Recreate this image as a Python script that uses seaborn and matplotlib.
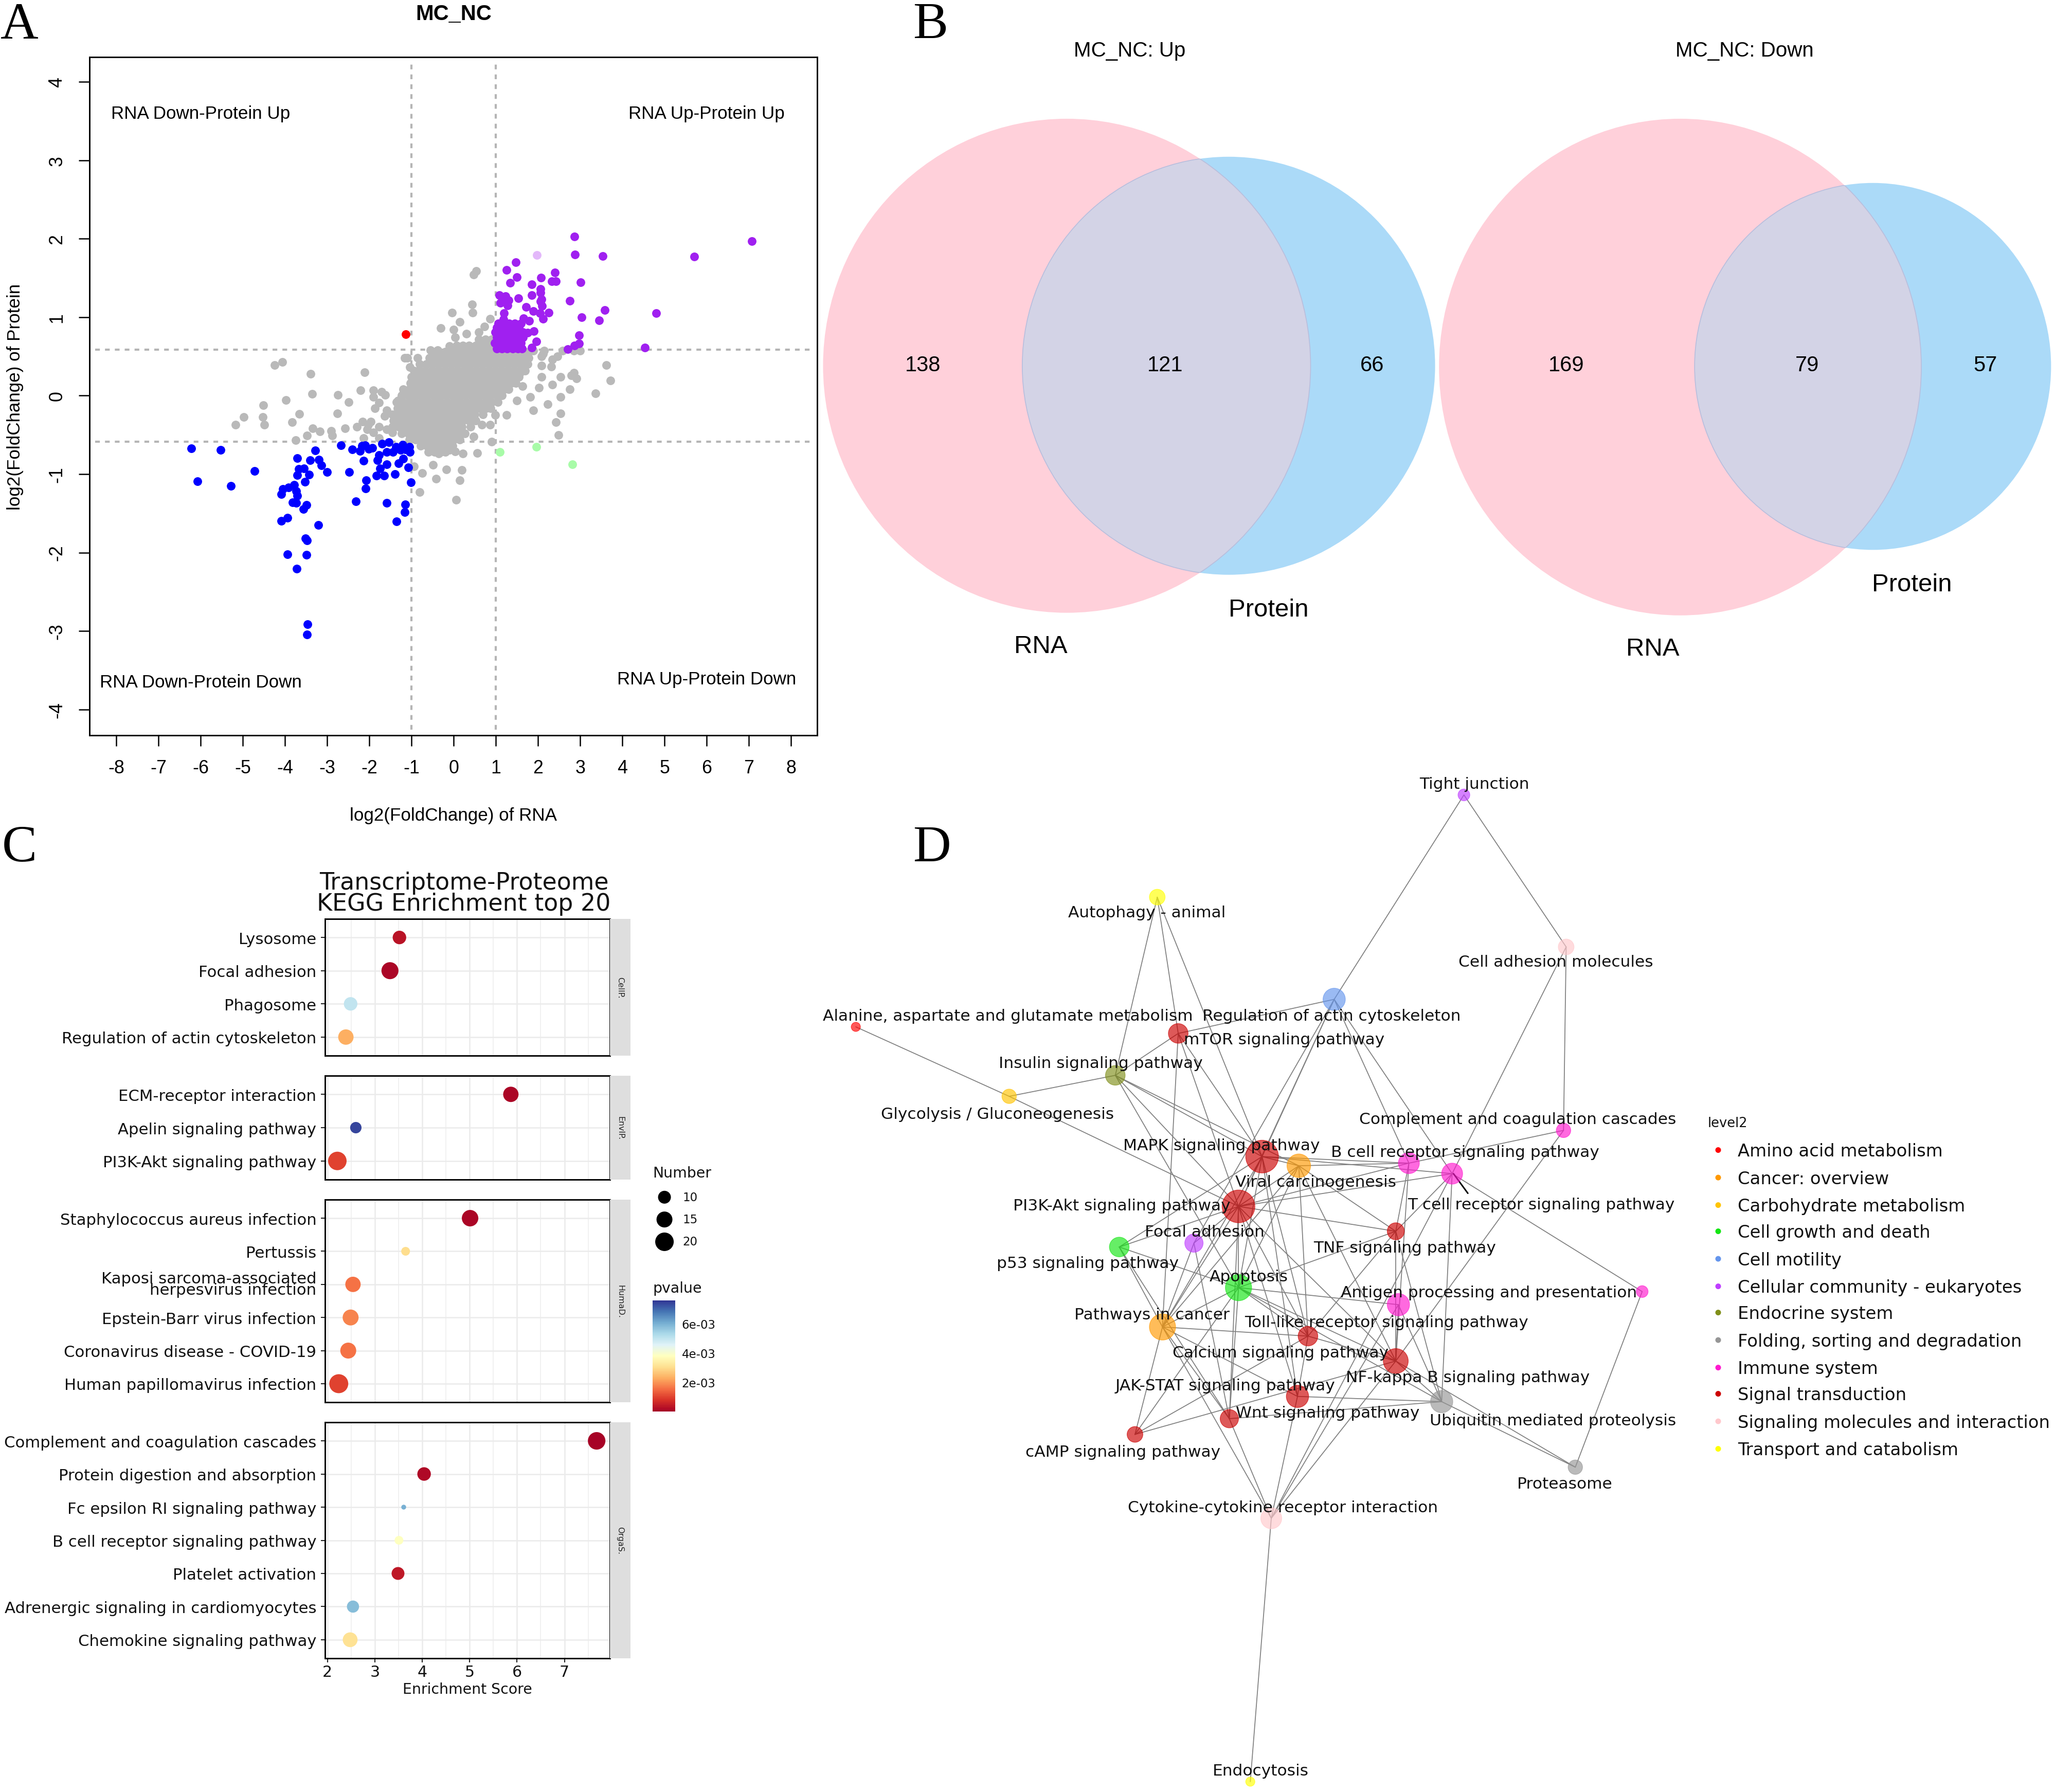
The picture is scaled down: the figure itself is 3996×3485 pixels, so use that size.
import numpy as np
import pandas as pd
import matplotlib
matplotlib.use("Agg")
import matplotlib.pyplot as plt
from matplotlib.patches import Ellipse
from matplotlib.cm import ScalarMappable
from matplotlib.colors import Normalize
import seaborn as sns

W, H = 3996, 3486
MAIN = W / 1568.0

# ---------- Panel A data ----------
BLOB_Y = [0.72, 0.64, 0.56, 0.48, 0.40, 0.32, 0.24, 0.16, 0.08, 0.0, -0.08, -0.16, -0.24, -0.32, -0.40, -0.48, -0.56, -0.64, -0.72]
BLOB_X = [
    [0.6, 0.75, 0.9, 1.0],
    [0.07, 0.22, 0.37, 0.52, 0.67, 0.82, 0.97],
    [-0.5, -0.35, -0.2, -0.05, 0.1, 0.25, 0.4, 0.55, 0.7, 0.85, 1.0, 1.15, 1.3, 1.45, 1.6, 1.7],
    [-0.58, -0.43, -0.28, -0.13, 0.02, 0.17, 0.32, 0.47, 0.62, 0.77, 0.92, 1.07, 1.22, 1.37, 1.52, 1.67, 1.78],
    [-0.8, -0.65, -0.5, -0.35, -0.2, -0.05, 0.1, 0.25, 0.4, 0.55, 0.7, 0.85, 1.0, 1.15, 1.3, 1.45, 1.6, 1.75],
    [-0.83, -0.68, -0.53, -0.38, -0.23, -0.08, 0.07, 0.22, 0.37, 0.52, 0.67, 0.82, 0.97, 1.12, 1.27, 1.42, 1.57, 1.7],
    [-1.0, -0.85, -0.7, -0.55, -0.4, -0.25, -0.1, 0.05, 0.2, 0.35, 0.5, 0.65, 0.8, 0.95, 1.1, 1.25, 1.4, 1.55],
    [-1.03, -0.88, -0.73, -0.58, -0.43, -0.28, -0.13, 0.02, 0.17, 0.32, 0.47, 0.62, 0.77, 0.92, 1.07, 1.22, 1.37, 1.48],
    [-1.2, -1.05, -0.9, -0.75, -0.6, -0.45, -0.3, -0.15, 0.0, 0.15, 0.3, 0.45, 0.6, 0.75, 0.9, 1.05, 1.2, 1.3],
    [-1.23, -1.08, -0.93, -0.78, -0.63, -0.48, -0.33, -0.18, -0.03, 0.12, 0.27, 0.42, 0.57, 0.72, 0.87, 1.02, 1.15],
    [-1.35, -1.2, -1.05, -0.9, -0.75, -0.6, -0.45, -0.3, -0.15, 0.0, 0.15, 0.3, 0.45, 0.6, 0.75, 0.9, 1.05],
    [-1.33, -1.18, -1.03, -0.88, -0.73, -0.58, -0.43, -0.28, -0.13, 0.02, 0.17, 0.32, 0.47, 0.62, 0.77, 0.88],
    [-1.45, -1.3, -1.15, -1.0, -0.85, -0.7, -0.55, -0.4, -0.25, -0.1, 0.05, 0.2, 0.35, 0.5, 0.7],
    [-1.43, -1.28, -1.13, -0.98, -0.83, -0.68, -0.53, -0.38, -0.23, -0.08, 0.07, 0.22, 0.37, 0.52],
    [-1.45, -1.3, -1.15, -1.0, -0.85, -0.7, -0.55, -0.4, -0.25, -0.1, 0.05, 0.2, 0.4],
    [-1.23, -1.08, -0.93, -0.78, -0.63, -0.48, -0.33, -0.18, -0.03, 0.12, 0.27],
    [-1.05, -0.9, -0.75, -0.6, -0.45, -0.3, -0.15, 0.0, 0.15],
    [-0.78, -0.63, -0.48, -0.33, -0.18, -0.03],
    [-0.6, -0.45, -0.3, -0.2],
]
GRAY_X = [-4.24, -4.06, -3.39, -3.36, -4.51, -3.98, -4.52, -4.49, -4.98, -5.17, -3.66, -3.83, -2.75, -2.49, -2.76, -2.21, -2.11, -3.34, -3.17, -3.47, -3.75, -2.90, -2.88, -2.57, -2.29,
          -1.90, -1.71, -1.62, -1.87, -1.77, -1.58, -2.16, -1.96, -2.05, -1.90, -2.13, -1.77, -1.58, -1.45, -1.39, -1.32, -1.90, -2.03, -1.77, -1.64,
          -1.16, -1.10, -1.04, -0.94, -0.85, -0.55, -0.385, -0.31, -0.04, 0.15, 0.0, 0.44, 0.475, 0.54, 0.45, 0.86, 0.73, 0.60, 0.31, -0.10, 0.03,
          2.08, 2.08, 2.08, 2.12, 2.34, 2.31, 2.46, 2.34, 2.53, 2.85, 2.75, 2.91, 2.79, 3.36, 3.62, 3.72, 2.53, 1.89, 2.23, 2.54, 2.43, 2.49, 1.82, 2.02, 1.63, 1.50, 1.25, 0.99, 0.86, 0.67, 0.90, 0.56, 0.475, 0.22, 0.03, 0.19, 0.15, 0.06, -0.17, -0.49, -0.42, -0.81, -0.74, -0.94, -0.36, -0.10, 2.14, 2.59, 2.85, 3.0, 1.89, 1.57, 1.76]
GRAY_Y = [0.39, 0.43, 0.276, 0.02, -0.124, -0.055, -0.276, -0.37, -0.276, -0.37, -0.234, -0.338, 0.007, -0.083, -0.228, 0.07, 0.30, -0.414, -0.455, -0.51, -0.57, -0.448, -0.51, -0.42, -0.40,
          0.07, 0.05, 0.01, -0.16, -0.09, -0.19, -0.33, -0.33, -0.43, -0.47, -0.54, -0.40, -0.43, -0.47, -0.26, -0.06, -0.02, -0.37, -0.54, -0.26,
          0.48, 0.48, 0.36, 0.32, 0.48, 0.58, 0.58, 0.86, 1.06, 0.94, 0.84, 1.16, 1.54, 1.59, 1.06, 0.98, 0.88, 0.81, 0.79, 0.63, 0.74,
          0.50, 0.38, 0.24, 0.53, 0.46, 0.37, 0.50, 0.14, 0.24, 0.29, 0.08, 0.22, 0.26, 0.03, 0.39, 0.19, -0.02, -0.19, -0.11, -0.23, -0.34, -0.50, -0.02, 0.10, 0.12, -0.06, -0.25, -0.25, -0.37, -0.37, -0.59, -0.73, -0.52, -0.74, -0.71, -0.95, -1.08, -1.33, -0.94, -0.88, -1.06, -1.23, -0.99, -0.90, -0.74, -0.69, 0.57, 0.57, 0.57, 0.57, 0.57, 0.29, 0.50]
PURPLE_X = [2.86, 2.88, 3.54, 5.71, 7.07, 1.48, 1.26, 1.50, 1.34, 1.85, 2.07, 2.40, 2.33, 2.43, 3.01, 1.85, 1.54, 2.06, 2.06, 2.08, 2.06, 2.10, 2.76, 3.59, 4.80, 3.03, 3.45, 2.98, 4.54, 2.71, 2.86, 2.98, 2.26, 2.12, 2.05, 1.89, 1.72, 1.79, 1.66, 1.60, 1.90, 1.76, 1.96, 1.85, 1.08, 1.23, 1.30, 1.11, 1.28, 1.17, 1.20,
            1.02, 1.14, 1.27, 1.40, 1.52, 1.62, 0.98, 1.10, 1.23, 1.36, 1.48, 1.60, 1.02, 1.14, 1.27, 1.40, 1.52, 1.64, 0.99, 1.11, 1.24, 1.36, 1.50, 1.64, 1.02, 1.14, 1.27, 1.40, 1.55, 1.06, 1.20, 1.32, 1.45, 1.18]
PURPLE_Y = [2.03, 1.80, 1.78, 1.77, 1.97, 1.70, 1.60, 1.51, 1.44, 1.42, 1.50, 1.57, 1.46, 1.46, 1.445, 1.28, 1.24, 1.36, 1.31, 1.23, 1.20, 1.14, 1.21, 1.09, 1.05, 1.00, 0.96, 0.77, 0.615, 0.59, 0.64, 0.665, 1.06, 0.98, 1.05, 1.08, 1.13, 0.95, 0.985, 0.92, 0.82, 0.80, 0.69, 0.61, 1.28, 1.27, 1.215, 1.18, 1.15, 1.23, 1.05,
            0.60, 0.60, 0.60, 0.60, 0.60, 0.60, 0.67, 0.67, 0.67, 0.67, 0.67, 0.67, 0.74, 0.74, 0.74, 0.74, 0.74, 0.74, 0.81, 0.81, 0.81, 0.81, 0.81, 0.81, 0.87, 0.87, 0.87, 0.87, 0.87, 0.92, 0.92, 0.92, 0.92, 0.97]
BLUE_X = [-6.22, -5.53, -4.72, -6.07, -5.28, -3.28, -3.71, -3.40, -3.20, -3.14, -3.00, -3.67, -3.55, -3.43, -3.71, -3.52, -3.78, -3.91, -4.05, -4.09, -3.73, -3.71, -3.82, -3.73, -3.49, -3.56, -3.94, -4.08, -3.21, -3.51, -3.48, -3.94, -3.49, -3.72, -3.46, -3.48,
          -2.67, -2.48, -2.40, -2.22, -2.17, -2.10, -2.01, -1.93, -2.13, -2.07, -2.09, -2.32, -1.58, -1.15, -1.16, -1.36, -1.01, -1.08, -1.70, -1.54, -1.59, -1.77, -1.81, -1.58, -1.74, -1.83, -1.65, -1.39, -1.31, -1.20, -1.44, -1.37, -1.21, -1.05, -1.04, -1.26, -1.15]
BLUE_Y = [-0.674, -0.691, -0.958, -1.09, -1.152, -0.698, -0.796, -0.825, -0.818, -0.892, -0.977, -0.932, -0.930, -1.006, -1.015, -1.098, -1.139, -1.17, -1.19, -1.255, -1.22, -1.275, -1.362, -1.368, -1.395, -1.445, -1.56, -1.60, -1.648, -1.82, -1.845, -2.02, -2.03, -2.205, -2.913, -3.047,
          -0.632, -0.973, -0.689, -0.706, -0.641, -0.635, -0.68, -0.667, -0.827, -1.078, -1.183, -1.351, -1.366, -1.386, -1.486, -1.602, -1.108, -0.914, -0.617, -0.595, -0.717, -0.761, -0.825, -0.879, -0.93, -1.017, -1.017, -1.0, -0.86, -0.805, -0.717, -0.652, -0.626, -0.652, -0.72, -0.695, -0.685]
RED_PT = ([-1.14], [0.78])
LILAC_PT = ([1.98], [1.79])
GREEN_X = [1.10, 1.96, 2.81]
GREEN_Y = [-0.72, -0.65, -0.875]
A_XTICKS = list(range(-8, 9))
A_YTICKS = list(range(-4, 5))

# ---------- Panel B data ----------
VENN_TITLES = ["MC_NC: Up", "MC_NC: Down"]
VENN_COUNTS = [(138, 121, 66), (169, 79, 57)]

# ---------- Panel C data ----------
TERMS = ["Lysosome", "Focal adhesion", "Phagosome", "Regulation of actin cytoskeleton",
         "ECM-receptor interaction", "Apelin signaling pathway", "PI3K-Akt signaling pathway",
         "Staphylococcus aureus infection", "Pertussis", "Kaposi sarcoma-associated\nherpesvirus infection",
         "Epstein-Barr virus infection", "Coronavirus disease - COVID-19", "Human papillomavirus infection",
         "Complement and coagulation cascades", "Protein digestion and absorption", "Fc epsilon RI signaling pathway",
         "B cell receptor signaling pathway", "Platelet activation", "Adrenergic signaling in cardiomyocytes", "Chemokine signaling pathway"]
GROUPS = ["CellP."] * 4 + ["EnvIP."] * 3 + ["HumaD."] * 6 + ["OrgaS."] * 7
SCORES = [3.52, 3.32, 2.49, 2.39, 5.87, 2.60, 2.21, 5.01, 3.65, 2.54, 2.49, 2.44, 2.24, 7.68, 4.04, 3.61, 3.51, 3.49, 2.54, 2.48]
NUMBERS = [11, 17, 11, 14, 14, 8, 20, 16, 5, 14, 15, 15, 21, 18, 11, 2, 5, 10, 9, 13]
PVALUES = [3e-4, 1e-4, 5.0e-3, 2.3e-3, 1e-4, 7.4e-3, 1e-3, 1e-4, 3.0e-3, 1.6e-3, 1.8e-3, 1.6e-3, 1e-3, 5e-5, 1.5e-4, 6e-3, 3.8e-3, 4e-4, 5.8e-3, 3.1e-3]

# ---------- Panel D data ----------
NODE_NAMES = ["Tight junction", "Cell adhesion molecules", "Autophagy - animal", "Alanine, aspartate and glutamate metabolism",
              "Regulation of actin cytoskeleton", "mTOR signaling pathway", "Insulin signaling pathway", "Glycolysis / Gluconeogenesis",
              "Complement and coagulation cascades", "MAPK signaling pathway", "Viral carcinogenesis", "B cell receptor signaling pathway",
              "T cell receptor signaling pathway", "PI3K-Akt signaling pathway", "TNF signaling pathway", "Focal adhesion",
              "p53 signaling pathway", "Apoptosis", "Toll-like node", "Antigen processing and presentation", "Pathways in cancer",
              "Toll-like receptor signaling pathway", "NF-kappa B signaling pathway", "JAK-STAT signaling pathway",
              "Ubiquitin mediated proteolysis", "Wnt signaling pathway", "cAMP signaling pathway", "Proteasome",
              "Cytokine-cytokine receptor interaction", "Endocytosis"]
NODE_X = [1117, 1195, 883, 653, 1018, 899, 851, 770, 1193, 963, 991, 1075, 1108, 945, 1065, 911, 854, 945, 1067, 1253, 887, 998, 1065, 990, 1100, 938, 866, 1202, 970, 954]
NODE_Y = [607, 723, 685, 784, 763, 789, 821, 837, 863, 883, 890, 888, 896, 921, 940, 949, 952, 983, 996, 986, 1013, 1020, 1039, 1066, 1070, 1083, 1095, 1120, 1159, 1360]
NODE_R = [4.5, 6, 6, 3.5, 8.5, 7.5, 7.5, 5.5, 5.5, 12.5, 9, 8, 8, 12.5, 6.5, 7, 7.5, 10, 8.5, 4.5, 10, 7.5, 9.5, 8.5, 8.5, 7, 6, 5.5, 8, 3.5]
LEVEL2 = ["Amino acid metabolism", "Cancer: overview", "Carbohydrate metabolism", "Cell growth and death", "Cell motility",
          "Cellular community - eukaryotes", "Endocrine system", "Folding, sorting and degradation", "Immune system",
          "Signal transduction", "Signaling molecules and interaction", "Transport and catabolism"]
LEVEL2_COLORS = ["#FF0000", "#FF9900", "#FFC400", "#14E614", "#6495ED", "#BF3EFF", "#808F1A", "#969696", "#FF19CF", "#CC0000", "#FFC8CC", "#FFFF00"]
NODE_LEVEL = [5, 10, 11, 0, 4, 9, 6, 2, 8, 9, 1, 8, 8, 9, 9, 5, 3, 3, 8, 8, 1, 9, 9, 9, 7, 9, 9, 7, 10, 11]
LABEL_X = [1125, 1187, 875, 769, 1016, 980, 840, 761, 1158, 932, 1004, 1118, 1176, 856, 1072, 919, 830, 953, None, 1136, 879, 1058, 1120, 935, 1185, 1013, 857, 1194, 979, 962]
LABEL_Y = [597, 733, 695, 774, 774, 792, 810, 849, 853, 873, 901, 878, 918, 919, 951, 939, 963, 973, None, 985, 1002, 1008, 1050, 1056, 1083, 1077, 1107, 1131, 1149, 1350]
LABEL_TEXT = {"Calcium signaling pathway": (977, 1031)}
EDGE_FROM = [0, 0, 1, 1, 2, 2, 2, 3, 7, 7, 6, 6, 6, 6, 6, 4, 4, 4, 4, 4, 4, 5, 5, 5, 9, 9, 9, 9, 9, 9, 9, 9, 9, 10, 10, 10, 10, 10, 10, 10, 11, 11, 11, 13, 13, 13, 13, 13, 13, 13, 13, 13, 13, 13, 12, 12, 12, 8, 16, 16, 16, 14, 14, 14, 14, 15, 15, 17, 17, 17, 17, 17, 17, 17, 18, 18, 18, 20, 20, 20, 20, 20, 21, 21, 22, 22, 22, 23, 23, 25, 25, 26, 24, 19, 22, 28, 12]
EDGE_TO = [4, 1, 12, 8, 6, 5, 9, 7, 6, 13, 5, 9, 13, 17, 10, 5, 9, 13, 15, 11, 12, 9, 13, 20, 10, 11, 12, 13, 16, 17, 20, 21, 23, 11, 13, 20, 17, 14, 21, 22, 8, 22, 14, 12, 11, 14, 16, 15, 17, 20, 21, 22, 23, 25, 19, 14, 28, 22, 17, 20, 25, 17, 21, 22, 24, 20, 25, 18, 20, 22, 21, 24, 25, 26, 22, 28, 24, 21, 23, 25, 26, 28, 22, 23, 24, 28, 27, 24, 28, 24, 28, 21, 27, 27, 26, 29, 24]

# ---------- helpers ----------
def rect(x0, y0, x1, y1):
    return [x0 / W, 1 - y1 / H, (x1 - x0) / W, (y1 - y0) / H]

sns.set_theme(style="white")
plt.rcParams["font.family"] = ["DejaVu Sans"]
plt.rcParams["axes.unicode_minus"] = False
fig = plt.figure(figsize=(W / 300, H / 300), dpi=300, facecolor="white")

over = fig.add_axes([0, 0, 1, 1], zorder=0)
over.set_xlim(0, W / MAIN)
over.set_ylim(H / MAIN, 0)
over.axis("off")

for letter, lx, ly in [("A", 15, 20), ("B", 710, 20), ("C", 15, 648), ("D", 711, 648)]:
    over.text(lx, ly, letter, family="Liberation Serif", fontsize=24.5, ha="center", va="center", color="black")

# ---------- Panel A ----------
ax = fig.add_axes(rect(174, 112, 1589, 1431), zorder=1)
blob_x = [v for row in BLOB_X for v in row]
blob_y = [y for y, row in zip(BLOB_Y, BLOB_X) for _ in row]
PT = dict(s=16.5, linewidth=0, legend=False, ax=ax)
sns.scatterplot(x=blob_x + GRAY_X, y=blob_y + GRAY_Y, color="#B9B9B9", zorder=2, **PT)
sns.scatterplot(x=PURPLE_X, y=PURPLE_Y, color="#A020F0", zorder=3, **PT)
sns.scatterplot(x=BLUE_X, y=BLUE_Y, color="#0000FF", zorder=3, **PT)
sns.scatterplot(x=RED_PT[0], y=RED_PT[1], color="#FF0000", zorder=3, **PT)
sns.scatterplot(x=LILAC_PT[0], y=LILAC_PT[1], color="#E3B8FA", zorder=3, **PT)
sns.scatterplot(x=GREEN_X, y=GREEN_Y, color="#A8FBA8", zorder=3, **PT)
for v in (-1, 1):
    ax.axvline(v, color="#B5B5B5", ls=(0, (2.2, 2.4)), lw=1.0, zorder=1, ymin=0.008, ymax=0.992)
for v in (-0.585, 0.585):
    ax.axhline(v, color="#B5B5B5", ls=(0, (2.2, 2.4)), lw=1.0, zorder=1, xmin=0.008, xmax=0.992)
ax.set_xlim(-8.634, 8.62)
ax.set_ylim(-4.33, 4.315)
ax.set_xticks(A_XTICKS)
ax.set_yticks(A_YTICKS)
ax.tick_params(axis="both", length=5, width=0.6, bottom=True, left=True, color="black", labelcolor="black", pad=6)
for lab in ax.get_xticklabels() + ax.get_yticklabels():
    lab.set_family("Liberation Sans")
    lab.set_fontsize(8.6)
for lab in ax.get_yticklabels():
    lab.set_rotation(90)
    lab.set_va("center")
for s in ax.spines.values():
    s.set_color("black")
    s.set_linewidth(0.7)
ax.set_facecolor("none")
ARIAL = dict(family="Liberation Sans", color="black")
ax.set_xlabel("log2(FoldChange) of RNA", fontsize=8.4, labelpad=14, **ARIAL)
ax.set_ylabel("log2(FoldChange) of Protein", fontsize=8.4, labelpad=11.4, **ARIAL)
for txt, tx, ty in [("RNA Down-Protein Up", -6.0, 3.6), ("RNA Up-Protein Up", 6.0, 3.6),
                    ("RNA Down-Protein Down", -6.0, -3.65), ("RNA Up-Protein Down", 6.0, -3.61)]:
    ax.text(tx, ty, txt, fontsize=8.4, ha="center", va="center", **ARIAL)
over.text(346, 11, "MC_NC", fontsize=10, fontweight="bold", ha="center", va="center", **ARIAL)

# ---------- Panel B ----------
PINK, SKY, MIX = "#FFD0DA", "#ABDAF8", "#D3D3E6"
venn_geo = [((814, 279.5, 372, 377), (937.5, 279.5, 315, 319)), ((1282, 280.5, 368, 379), (1429, 280, 272, 280))]
for (rna, pro) in venn_geo:
    over.add_patch(Ellipse(rna[:2], rna[2], rna[3], fc=PINK, ec="none", zorder=1))
    over.add_patch(Ellipse(pro[:2], pro[2], pro[3], fc=SKY, ec="none", zorder=1))
    c_m = Ellipse(pro[:2], pro[2], pro[3], fc=MIX, ec="#B8BEDD", lw=0.4, zorder=2)
    over.add_patch(c_m)
    c_m.set_clip_path(Ellipse(rna[:2], rna[2], rna[3], transform=over.transData))
    over.add_patch(Ellipse(rna[:2], rna[2], rna[3], fc="none", ec="#B8BEDD", lw=0.4, zorder=2)).set_clip_path(
        Ellipse(pro[:2], pro[2], pro[3], transform=over.transData))
for t, tx in zip(VENN_TITLES, (862, 1331)):
    over.text(tx, 39, t, fontsize=9.7, ha="center", va="center", zorder=3, **ARIAL)
for counts, xs in zip(VENN_COUNTS, ((704, 889, 1047), (1195, 1379, 1515))):
    for c, cx in zip(counts, xs):
        over.text(cx, 279, str(c), fontsize=10, ha="center", va="center", zorder=3, **ARIAL)
for t, tx, ty in [("RNA", 794, 493.5), ("Protein", 968, 465.5), ("RNA", 1261, 495.5), ("Protein", 1459, 446.5)]:
    over.text(tx, ty, t, fontsize=11.8, ha="center", va="center", zorder=3, **ARIAL)

# ---------- Panel C ----------
cdf = pd.DataFrame({"term": TERMS, "group": GROUPS, "score": SCORES, "number": NUMBERS, "pvalue": PVALUES})
panels = [("CellP.", 1788, 2054), ("EnvIP.", 2093, 2295), ("HumaD.", 2334, 2728), ("OrgaS.", 2767, 3226)]
P_NORM = (0, 7.6e-3)
SZ_RANGE = (5.1, 82.3)
SZ_NORM = (2, 22)
for i, (grp, y0, y1) in enumerate(panels):
    sub = cdf[cdf.group == grp].reset_index(drop=True)
    axc = fig.add_axes(rect(632, y0, 1186, y1), zorder=1)
    axc.set_axisbelow(True)
    sns.scatterplot(data=sub, x="score", y=sub.index, hue="pvalue", size="number", palette="RdYlBu",
                    hue_norm=P_NORM, sizes=SZ_RANGE, size_norm=SZ_NORM, linewidth=0, legend=False, ax=axc, zorder=3)
    axc.set_xlim(1.95, 7.96)
    axc.set_ylim(len(sub) - 1 + 0.56, -0.56)
    axc.set_xticks([2, 3, 4, 5, 6, 7])
    axc.set_xticks([2.5, 3.5, 4.5, 5.5, 6.5, 7.5], minor=True)
    axc.set_yticks(range(len(sub)))
    axc.set_yticklabels(sub.term, fontsize=7.4, linespacing=0.72, color="#111111")
    axc.grid(True, which="major", color="#EBEBEB", lw=0.6)
    axc.grid(True, which="minor", axis="x", color="#EFEFEF", lw=0.4)
    axc.tick_params(axis="y", left=True, length=2, width=0.5, pad=2, color="#222222")
    axc.tick_params(axis="x", which="minor", length=0)
    axc.set_ylabel("")
    axc.set_xlabel("")
    if i == len(panels) - 1:
        axc.tick_params(axis="x", bottom=True, length=2, width=0.5, pad=1, labelsize=7.2, color="#222222", labelcolor="#111111")
        axc.set_xlabel("Enrichment Score", fontsize=6.8, labelpad=1, color="#111111")
    else:
        axc.tick_params(axis="x", labelbottom=False, bottom=False)
    for s in axc.spines.values():
        s.set_color("black")
        s.set_linewidth(0.7)
    strip = fig.add_axes(rect(1186, y0, 1226, y1), zorder=1)
    strip.set_facecolor("#DEDEDE")
    strip.set_xticks([])
    strip.set_yticks([])
    for s in strip.spines.values():
        s.set_visible(False)
    strip.text(0.5, 0.5, grp, rotation=-90, fontsize=3.8, ha="center", va="center", transform=strip.transAxes, color="#222222")

over.text(354, 682, "Transcriptome-Proteome\nKEGG Enrichment top 20", fontsize=11, ha="center", va="center",
          linespacing=0.88, color="#111111", family="DejaVu Sans")

# legends of panel C
over.text(498, 895.5, "Number", fontsize=6.8, ha="left", va="center", color="#111111")
LEG_N = [10, 15, 20]
LEG_Y = [914, 931, 948]
sns.scatterplot(x=[507, 507, 507], y=LEG_Y, size=LEG_N, sizes=SZ_RANGE, size_norm=SZ_NORM, color="black",
                linewidth=0, legend=False, ax=over, zorder=3)
over.set_xlim(0, W / MAIN)
over.set_ylim(H / MAIN, 0)
for n, ly in zip(LEG_N, LEG_Y):
    over.text(521, ly, str(n), fontsize=5.5, ha="left", va="center", color="#111111")
over.text(498, 983.5, "pvalue", fontsize=6.8, ha="left", va="center", color="#111111")
cax = fig.add_axes(rect(1269, 2530, 1313, 2746), zorder=1)
cb = fig.colorbar(ScalarMappable(Normalize(*P_NORM), "RdYlBu"), cax=cax)
cb.set_ticks([2e-3, 4e-3, 6e-3])
cb.set_ticklabels(["2e-03", "4e-03", "6e-03"])
cb.ax.tick_params(labelsize=5.5, length=0, pad=3, labelcolor="#111111")
cb.outline.set_visible(False)

# ---------- Panel D ----------
for a, b in zip(EDGE_FROM, EDGE_TO):
    over.plot([NODE_X[a], NODE_X[b]], [NODE_Y[a], NODE_Y[b]], color="#7F7F7F", lw=0.42, zorder=2, solid_capstyle="round")
over.plot([1109, 1120], [896, 911], color="black", lw=0.7, zorder=3)
node_df = pd.DataFrame({"x": NODE_X, "y": NODE_Y, "level": [LEVEL2[k] for k in NODE_LEVEL]})
sns.scatterplot(data=node_df, x="x", y="y", hue="level", hue_order=LEVEL2, palette=LEVEL2_COLORS,
                s=[(1.223 * r) ** 2 for r in NODE_R], alpha=0.65, edgecolor="face", linewidth=0.3,
                legend=False, ax=over, zorder=3)
over.set_xlim(0, W / MAIN)
over.set_ylim(H / MAIN, 0)
over.set_xlabel("")
over.set_ylabel("")
for name, lx, ly in zip(NODE_NAMES, LABEL_X, LABEL_Y):
    if lx is None:
        continue
    over.text(lx, ly + 1.5, name, fontsize=7.5, ha="center", va="center", color="#111111", zorder=4)
for name, (lx, ly) in LABEL_TEXT.items():
    over.text(lx, ly + 1.5, name, fontsize=7.5, ha="center", va="center", color="#111111", zorder=4)

over.text(1303, 857.5, "level2", fontsize=6.2, ha="left", va="center", color="#111111")
LEG2_Y = [878, 899, 920, 940, 961, 982, 1002, 1023, 1044, 1064, 1085, 1106]
sns.scatterplot(x=[1311] * 12, y=LEG2_Y, hue=LEVEL2, hue_order=LEVEL2, palette=LEVEL2_COLORS, s=7, linewidth=0,
                legend=False, ax=over, zorder=3)
over.set_xlim(0, W / MAIN)
over.set_ylim(H / MAIN, 0)
for t, ly in zip(LEVEL2, LEG2_Y):
    over.text(1326, ly + 0.8, t, fontsize=8.15, ha="left", va="center", color="#111111")
over.axis("off")

fig.savefig("out.png", dpi=300, facecolor="white")
